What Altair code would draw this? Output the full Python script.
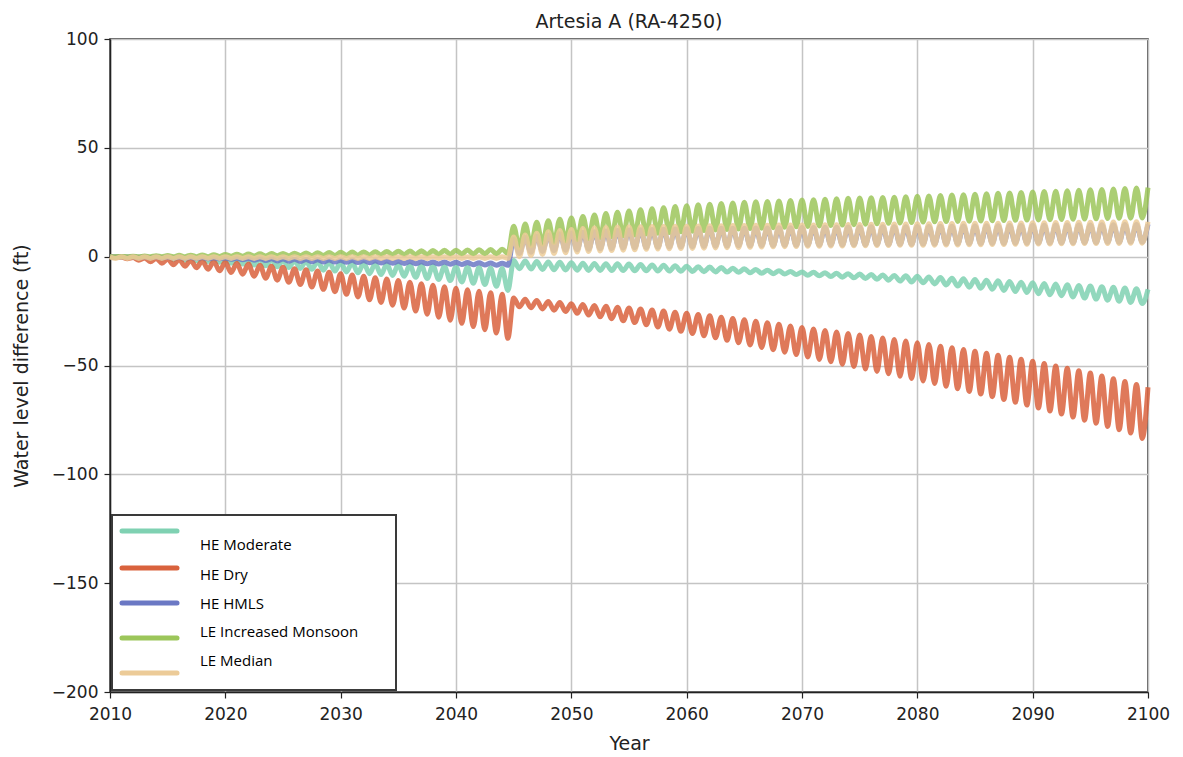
import altair as alt
import pandas as pd

# ---------------- data ----------------
series_names = ["HE Moderate", "HE Dry", "HE HMLS", "LE Increased Monsoon", "LE Median"]
series_colors = ["#7fd1b2", "#d9623d", "#6b78c4", "#9cc65a", "#eccb98"]

start_year = 2010
end_year = 2100

# annual high (at the start of each year, 2010..2100) and low (mid-year, 2010..2099)
moderate_hi = [0, 0, 0, 0, -0.1, -0.2, -0.3, -0.4, -0.5, -0.6,
               -0.8, -0.9, -1.0, -1.2, -1.4, -1.6, -1.8, -2.0, -2.2, -2.4,
               -2.6, -2.8, -3.0, -3.2, -3.4, -3.6, -3.8, -4.0, -4.2, -4.4,
               -4.6, -4.8, -5.0, -5.2, -5.4,
               -1.8, -2.0, -2.2, -2.4, -2.6,
               -2.8, -3.0, -3.1, -3.2, -3.3, -3.4, -3.6, -3.8, -4.0, -4.2,
               -4.4, -4.6, -4.8, -5.0, -5.3, -5.6, -5.9, -6.2, -6.5, -6.8,
               -7.0, -7.2, -7.4, -7.6, -7.8, -8.0, -8.2, -8.4, -8.6, -8.8,
               -9.0, -9.3, -9.6, -9.9, -10.2, -10.5, -10.8, -11.1, -11.4, -11.7,
               -12.0, -12.3, -12.6, -12.9, -13.2, -13.5, -13.8, -14.1, -14.4, -14.7,
               -15.0]
moderate_lo = [-0.2, -0.4, -0.6, -0.8, -1.0, -1.3, -1.6, -1.9, -2.2, -2.6,
               -3.0, -3.4, -3.8, -4.2, -4.6, -5.0, -5.4, -5.8, -6.2, -6.6,
               -7.0, -7.4, -7.8, -8.2, -8.6, -9.0, -9.5, -10.0, -10.5, -11.0,
               -11.6, -12.2, -12.8, -13.6, -15.5,
               -5.5, -5.7, -5.9, -6.0, -6.1,
               -6.2, -6.3, -6.3, -6.4, -6.4, -6.5, -6.5, -6.6, -6.6, -6.7,
               -6.8, -6.9, -7.0, -7.1, -7.2, -7.4, -7.6, -7.8, -8.0, -8.2,
               -8.5, -8.8, -9.1, -9.4, -9.7, -10.0, -10.4, -10.8, -11.2, -11.6,
               -12.0, -12.5, -13.0, -13.5, -14.0, -14.5, -15.0, -15.5, -16.0, -16.5,
               -17.0, -17.5, -18.0, -18.5, -19.0, -19.5, -20.0, -20.5, -21.0, -21.5]

dry_hi = [0, -0.2, -0.4, -0.6, -0.8, -1.0, -1.3, -1.6, -1.9, -2.2,
          -2.5, -3.0, -3.4, -3.9, -4.4, -4.9, -5.5, -6.0, -6.6, -7.2,
          -7.8, -8.4, -9.0, -9.7, -10.3, -11.0, -11.7, -12.4, -13.1, -13.8,
          -14.5, -15.2, -15.9, -16.6, -17.3,
          -19.0, -19.6, -20.1, -20.6, -21.1,
          -21.6, -22.0, -22.4, -22.8, -23.2, -23.6, -24.0, -24.5, -25.0, -25.5,
          -26.0, -26.6, -27.2, -27.8, -28.4, -29.0, -29.7, -30.4, -31.1, -31.8,
          -32.5, -33.2, -33.9, -34.6, -35.3, -36.0, -36.7, -37.4, -38.1, -38.8,
          -39.5, -40.3, -41.1, -41.9, -42.7, -43.5, -44.4, -45.3, -46.2, -47.1,
          -48.0, -49.1, -50.2, -51.3, -52.4, -53.5, -54.8, -56.1, -57.4, -58.7,
          -60.0]
dry_lo = [-0.3, -1.0, -1.6, -2.3, -3.0, -3.7, -4.4, -5.1, -5.8, -6.5,
          -7.3, -8.1, -9.0, -9.9, -10.8, -11.8, -12.8, -13.9, -15.0, -16.1,
          -17.3, -18.5, -19.8, -21.0, -22.3, -23.6, -25.0, -26.4, -27.8, -29.2,
          -30.6, -32.1, -33.6, -35.1, -37.5,
          -23.0, -23.5, -24.0, -24.6, -25.2,
          -26.0, -26.8, -27.6, -28.5, -29.4, -30.3, -31.3, -32.3, -33.3, -34.3,
          -35.3, -36.3, -37.3, -38.4, -39.5, -40.6, -41.7, -42.8, -43.9, -45.0,
          -46.1, -47.2, -48.3, -49.4, -50.5, -51.6, -52.7, -53.8, -54.9, -56.0,
          -57.1, -58.3, -59.5, -60.7, -61.9, -63.1, -64.3, -65.6, -66.9, -68.2,
          -69.5, -70.9, -72.3, -73.7, -75.1, -76.5, -78.0, -79.5, -81.0, -83.5]

hmls_hi = [0, 0, 0, 0, 0, -0.1, -0.2, -0.3, -0.4, -0.5,
           -0.6, -0.7, -0.8, -0.9, -1.0, -1.1, -1.2, -1.3, -1.4, -1.5,
           -1.6, -1.7, -1.8, -1.9, -2.0, -2.1, -2.2, -2.3, -2.4, -2.5,
           -2.6, -2.7, -2.8, -2.9, -3.0,
           8.0, 8.8, 9.5, 10.0, 10.5,
           10.9, 11.2, 11.5, 11.8, 12.0, 12.2, 12.4, 12.5, 12.6, 12.7,
           12.8, 12.9, 13.0, 13.0, 13.1, 13.1, 13.2, 13.2, 13.3, 13.3,
           13.4, 13.4, 13.5, 13.5, 13.6, 13.6, 13.7, 13.7, 13.8, 13.8,
           13.9, 13.9, 14.0, 14.0, 14.1, 14.1, 14.2, 14.2, 14.3, 14.3,
           14.4, 14.4, 14.5, 14.5, 14.6, 14.6, 14.7, 14.7, 14.8, 14.8,
           14.9]
hmls_lo = [-0.1, -0.2, -0.3, -0.4, -0.5, -0.6, -0.7, -0.8, -0.9, -1.0,
           -1.2, -1.4, -1.6, -1.8, -2.0, -2.1, -2.2, -2.3, -2.4, -2.5,
           -2.6, -2.7, -2.8, -2.9, -3.0, -3.1, -3.2, -3.3, -3.4, -3.5,
           -3.6, -3.7, -3.8, -3.9, -4.0,
           1.5, 2.0, 2.4, 2.8, 3.0,
           3.2, 3.4, 3.6, 3.8, 4.0, 4.1, 4.2, 4.3, 4.4, 4.5,
           4.6, 4.7, 4.8, 4.9, 5.0, 5.0, 5.1, 5.1, 5.2, 5.2,
           5.3, 5.3, 5.4, 5.4, 5.5, 5.5, 5.6, 5.6, 5.7, 5.7,
           5.8, 5.8, 5.9, 5.9, 6.0, 6.0, 6.1, 6.1, 6.2, 6.2,
           6.3, 6.3, 6.4, 6.4, 6.5, 6.5, 6.6, 6.6, 6.7, 6.7]

monsoon_hi = [0, 0.1, 0.2, 0.3, 0.4, 0.5, 0.6, 0.7, 0.8, 0.9,
              1.0, 1.1, 1.2, 1.3, 1.4, 1.5, 1.6, 1.7, 1.8, 1.9,
              2.0, 2.1, 2.2, 2.3, 2.4, 2.5, 2.6, 2.7, 2.8, 2.9,
              3.0, 3.1, 3.2, 3.3, 3.4,
              14.0, 15.0, 15.8, 16.5, 17.2,
              17.8, 18.5, 19.2, 19.8, 20.4, 21.0, 21.5, 22.0, 22.5, 23.0,
              23.4, 23.8, 24.1, 24.4, 24.7, 25.0, 25.2, 25.4, 25.6, 25.8,
              26.0, 26.2, 26.4, 26.6, 26.8, 27.0, 27.1, 27.2, 27.3, 27.5,
              27.7, 27.9, 28.1, 28.3, 28.5, 28.7, 28.9, 29.1, 29.3, 29.5,
              29.7, 29.9, 30.1, 30.3, 30.5, 30.7, 30.9, 31.1, 31.3, 31.5,
              31.7]
monsoon_lo = [0, 0, 0, 0, 0, 0, 0, 0, 0, 0.1,
              0.2, 0.2, 0.3, 0.3, 0.4, 0.4, 0.5, 0.5, 0.6, 0.6,
              0.7, 0.7, 0.8, 0.8, 0.9, 0.9, 1.0, 1.0, 1.1, 1.1,
              1.2, 1.2, 1.3, 1.3, 1.4,
              4.0, 5.0, 5.8, 6.5, 7.2,
              7.8, 8.3, 8.8, 9.2, 9.6, 10.0, 10.4, 10.8, 11.1, 11.4,
              11.7, 12.0, 12.3, 12.5, 12.7, 12.9, 13.1, 13.3, 13.5, 13.7,
              13.9, 14.1, 14.3, 14.5, 14.7, 14.9, 15.1, 15.3, 15.5, 15.7,
              15.9, 16.0, 16.1, 16.2, 16.3, 16.4, 16.5, 16.6, 16.7, 16.8,
              16.9, 17.0, 17.1, 17.2, 17.3, 17.4, 17.5, 17.6, 17.7, 17.8]

median_hi = [0, 0, 0, 0, 0, 0, 0, 0, 0, 0,
             0, 0, 0, 0, 0, 0, 0, 0, 0, 0,
             0, 0, 0, 0, 0, 0, 0, 0, 0, 0,
             0, 0, 0, 0, 0,
             9.0, 10.0, 10.8, 11.4, 12.0,
             12.5, 12.9, 13.2, 13.4, 13.6, 13.7, 13.8, 13.9, 13.9, 14.0,
             14.0, 14.1, 14.2, 14.2, 14.3, 14.3, 14.4, 14.4, 14.5, 14.5,
             14.6, 14.6, 14.7, 14.7, 14.8, 14.8, 14.9, 14.9, 15.0, 15.0,
             15.1, 15.1, 15.2, 15.2, 15.3, 15.3, 15.4, 15.4, 15.5, 15.5,
             15.6, 15.6, 15.7, 15.7, 15.8, 15.8, 15.9, 15.9, 16.0, 16.0,
             16.0]
median_lo = [-0.8, -0.8, -0.8, -0.8, -0.8, -0.8, -0.8, -0.8, -0.8, -0.8,
             -0.8, -0.8, -0.8, -0.8, -0.8, -0.8, -0.8, -0.8, -0.8, -0.8,
             -0.8, -0.8, -0.8, -0.8, -0.8, -0.8, -0.8, -0.8, -0.8, -0.8,
             -0.8, -0.8, -0.8, -0.8, -0.8,
             0.0, 0.5, 1.0, 1.4, 1.8,
             2.1, 2.4, 2.6, 2.8, 3.0, 3.2, 3.4, 3.5, 3.6, 3.7,
             3.8, 3.9, 4.0, 4.1, 4.2, 4.3, 4.4, 4.5, 4.6, 4.7,
             4.8, 4.8, 4.9, 4.9, 5.0, 5.0, 5.1, 5.1, 5.2, 5.2,
             5.3, 5.3, 5.4, 5.4, 5.5, 5.5, 5.6, 5.6, 5.7, 5.7,
             5.8, 5.8, 5.9, 5.9, 6.0, 6.0, 6.1, 6.1, 6.2, 6.2]

x_ticks = [2010, 2020, 2030, 2040, 2050, 2060, 2070, 2080, 2090, 2100]
y_ticks = [-200, -150, -100, -50, 0, 50, 100]

series_hi = [moderate_hi, dry_hi, hmls_hi, monsoon_hi, median_hi]
series_lo = [moderate_lo, dry_lo, hmls_lo, monsoon_lo, median_lo]

# ---------------- build table (high at year start, low at mid-year) -------------
rows = []
for name, hi, lo in zip(series_names, series_hi, series_lo):
    for i, yr in enumerate(range(start_year, end_year)):
        rows.append({"series": name, "year": yr, "value": hi[i]})
        rows.append({"series": name, "year": yr + 0.5, "value": lo[i]})
    rows.append({"series": name, "year": end_year, "value": hi[end_year - start_year]})
df = pd.DataFrame(rows)

FONT = "DejaVu Sans"
W, H = 1038, 653

x_enc = alt.X("year:Q", scale=alt.Scale(domain=[2010, 2100], nice=False),
              axis=alt.Axis(values=x_ticks, format="d", title="Year"))
y_enc = alt.Y("value:Q", scale=alt.Scale(domain=[-200, 100], nice=False),
              axis=alt.Axis(values=y_ticks, title="Water level difference (ft)"))

layers = []
for name, color in zip(series_names, series_colors):
    layers.append(
        alt.Chart(df[df["series"] == name])
        .mark_line(interpolate="monotone", strokeWidth=5, color=color, opacity=0.85)
        .encode(x=x_enc, y=y_enc)
    )

# ---------------- hand-drawn legend box ----------------
box_df = pd.DataFrame({"k": [0]})
layers.append(
    alt.Chart(box_df).mark_rect(fill="white", stroke="#3a3a3a", strokeWidth=2)
    .encode(x=alt.value(2), x2=alt.value(286), y=alt.value(476), y2=alt.value(651))
)
sym_y = [492, 529, 564, 599, 634]
lab_y = [506, 536, 565, 593, 622]
for i, (name, color) in enumerate(zip(series_names, series_colors)):
    ldf = pd.DataFrame({"label": [name]})
    layers.append(
        alt.Chart(ldf).mark_rule(color=color, strokeWidth=5, strokeCap="round")
        .encode(x=alt.value(12), x2=alt.value(67), y=alt.value(sym_y[i]))
    )
    layers.append(
        alt.Chart(ldf).mark_text(align="left", baseline="middle", font="Open Sans",
                                 fontSize=15, color="black")
        .encode(x=alt.value(90), y=alt.value(lab_y[i]), text="label:N")
    )

chart = (
    alt.layer(*layers)
    .properties(
        width=W, height=H,
        title=alt.TitleParams("Artesia A (RA-4250)", font=FONT, fontSize=19,
                              fontWeight="normal", color="#222222", offset=-2),
        autosize=alt.AutoSizeParams(type="none"),
        padding={"left": 102, "top": 31, "right": 27, "bottom": 64},
    )
    .configure_view(stroke="#222222", strokeWidth=1.5)
    .configure_axis(
        labelFont=FONT, labelFontSize=17, labelColor="#222222", labelFlush=False,
        titleFont=FONT, titleFontSize=19, titleFontWeight="normal", titleColor="#222222",
        domainColor="#222222", domainWidth=1.5,
        tickColor="#222222", tickSize=6, tickWidth=1.2,
        gridColor="#c4c4c4", gridWidth=1.5,
    )
    .configure_axisX(labelPadding=8, titlePadding=12)
    .configure_axisY(labelPadding=6, titlePadding=20)
)

chart.save("out.html", embed_options={"renderer": "svg", "actions": False})
